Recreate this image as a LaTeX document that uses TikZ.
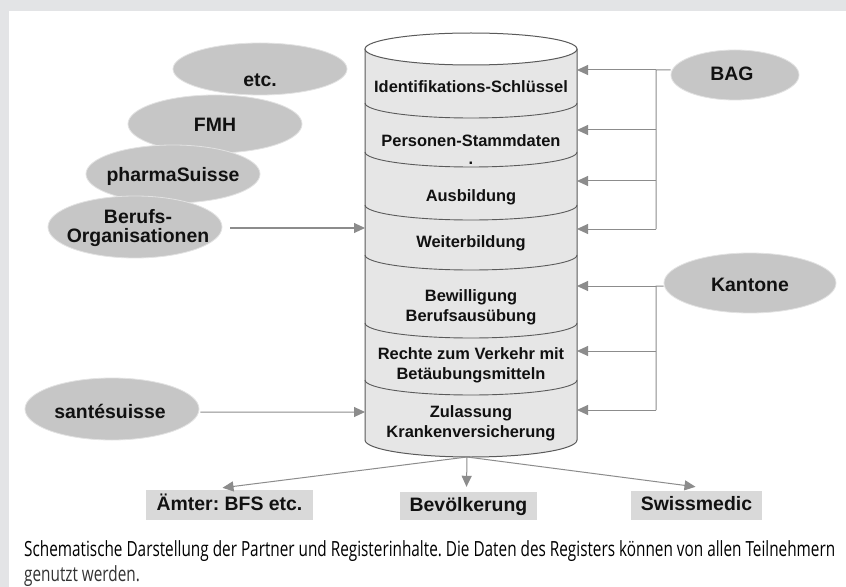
\documentclass[tikz,border=0pt]{standalone}
\usepackage{fontspec}
\setmainfont{Liberation Sans}
\newfontfamily\capfont{Open Sans}
\usetikzlibrary{shapes.geometric,arrows.meta}
\definecolor{bggray}{HTML}{E3E4E6}
\definecolor{ellfill}{HTML}{C6C6C6}
\definecolor{ellborder}{HTML}{E2E2E2}
\definecolor{cylfill}{HTML}{E6E6E6}
\definecolor{cylline}{HTML}{5A5A5A}
\definecolor{arrowgray}{HTML}{8C8C8C}
\definecolor{boxfill}{HTML}{D9D9D9}
\definecolor{txt}{HTML}{111111}
\definecolor{captxt}{HTML}{333333}
\newcommand\sagarc[2]{(365,#1) .. controls (365,#1+#2*0.5523) and (412.5,#1+#2) .. (471,#1+#2) .. controls (529.5,#1+#2) and (577,#1+#2*0.5523) .. (577,#1)}
\newsavebox\capboxA
\frenchspacing
\begin{document}
\sbox\capboxA{\capfont\fontsize{21}{24}\selectfont Schematische Darstellung der Partner und Registerinhalte. Die Daten des Registers können von allen Teilnehmern}%
\pgfmathsetmacro\capsx{814.04/\the\wd\capboxA}%
\begin{tikzpicture}[x=1bp,y=-1bp,
  ell/.style={ellipse, fill=ellfill, draw=ellborder, line width=0.8bp, inner sep=0pt},
  lab/.style={font=\fontsize{19.5}{19.5}\selectfont\bfseries, text=txt, align=center, inner sep=0pt},
  cyllab/.style={font=\fontsize{16.5}{20}\selectfont\bfseries, text=txt, align=center, inner sep=0pt},
  conn/.style={draw=arrowgray, line width=1bp},
  arr/.style={conn, -{Triangle[length=11bp,width=10bp]}},
  boxnode/.style={fill=boxfill, inner sep=0pt, text height=14bp, text depth=4bp, font=\fontsize{19.5}{20}\selectfont\bfseries, text=txt},
  caption/.style={anchor=base west, inner sep=0pt, text=captxt}
]
\useasboundingbox (0,0) rectangle (846,587);
\fill[bggray] (0,0) rectangle (846,587);
\fill[white] (9,11) rectangle (846,587);

% left ellipses (back to front)
\node[ell, minimum width=174bp, minimum height=52bp] (etc) at (260,69) {};
\node[lab] (etct) at (260,80) {etc.};
\node[ell, minimum width=174bp, minimum height=58bp] (fmh) at (215,124) {};
\node[lab] (fmht) at (215,125) {FMH};
\node[ell, minimum width=174bp, minimum height=58bp] (pharma) at (173,174) {};
\node[lab] (pharmat) at (173,176) {pharmaSuisse};
\node[ell, minimum width=174bp, minimum height=62bp] (berufs) at (135,227) {};
\node[lab] (berufst) at (138,228) {Berufs-\\Organisationen};
\node[ell, minimum width=174bp, minimum height=62bp] (sante) at (112,409) {};
\node[lab] (santet) at (110,411) {santésuisse};

% right ellipses
\node[ell, minimum width=128bp, minimum height=50bp] (bag) at (735,75) {};
\node[lab] (bagt) at (732,74) {BAG};
\node[ell, minimum width=172bp, minimum height=60bp] (kant) at (750,283) {};
\node[lab] (kantt) at (750,285) {Kantone};

% cylinder
\fill[cylfill] (365,49) -- (365,440) .. controls (365,449.4) and (412.5,457) .. (471,457) .. controls (529.5,457) and (577,449.4) .. (577,440) -- (577,49) -- cycle;
\draw[cylline, line width=1bp] (365,49) -- (365,440) .. controls (365,449.4) and (412.5,457) .. (471,457) .. controls (529.5,457) and (577,449.4) .. (577,440) -- (577,49);
\foreach \yy in {103,152,205,255,323,380}{
  \draw[cylline, line width=0.9bp] \sagarc{\yy}{15};
}
\draw[cylline, line width=1bp, fill=white] (471,49) ellipse [x radius=106, y radius=16];

\node[cyllab] (c1) at (471,87) {Identifikations-Schlüssel};
\node[cyllab] (c2) at (471,141) {Personen-Stammdaten};
\node[cyllab] (c2b) at (471,163) {.};
\node[cyllab] (c3) at (471,197) {Ausbildung};
\node[cyllab] (c4) at (471,243) {Weiterbildung};
\node[cyllab] (c5) at (471,307) {Bewilligung\\Berufsausübung};
\node[cyllab] (c6) at (471,365) {Rechte zum Verkehr mit\\Betäubungsmitteln};
\node[cyllab] (c7) at (471,423) {Zulassung\\Krankenversicherung};

% arrow targets on cylinder
\coordinate (cB1) at (577,70);
\coordinate (cB2) at (577,130);
\coordinate (cB3) at (577,181);
\coordinate (cB4) at (577,229);
\coordinate (cK1) at (577,286);
\coordinate (cK2) at (577,351);
\coordinate (cK3) at (577,410);
\coordinate (cL1) at (365,228);
\coordinate (cL2) at (365,412);
\coordinate (jB1) at (656,70);
\coordinate (jB2) at (656,130);
\coordinate (jB3) at (656,181);
\coordinate (jB4) at (656,229);
\coordinate (jK1) at (656,286);
\coordinate (jK2) at (656,351);
\coordinate (jK3) at (656,410);
\coordinate (cylbot) at (467,457);

% BAG connections
\draw[conn] ([yshift=5bp]bag.west) -- (jB1) -- (jB4);
\draw[arr] (jB1) -- (cB1);
\draw[arr] (jB2) -- (cB2);
\draw[arr] (jB3) -- (cB3);
\draw[arr] (jB4) -- (cB4);

% Kantone connections
\draw[conn] ([yshift=-3bp]kant.west) -- (jK1) -- (jK3);
\draw[arr] (jK1) -- (cK1);
\draw[arr] (jK2) -- (cK2);
\draw[arr] (jK3) -- (cK3);

% left connections
\draw[arr] ([xshift=8bp,yshift=-1bp]berufs.east) -- (cL1);
\draw[arr] ([xshift=1bp,yshift=-3bp]sante.east) -- (cL2);

% bottom boxes
\node[boxnode, minimum width=167bp, minimum height=30bp] (aemter) at (229.5,505) {Ämter: BFS etc.};
\node[boxnode, minimum width=137bp, minimum height=28bp] (bev) at (468.5,506) {Bevölkerung};
\node[boxnode, minimum width=131bp, minimum height=29bp] (swiss) at (696.5,505.5) {Swissmedic};

\draw[arr] (cylbot) -- ([xshift=-7bp,yshift=2bp]aemter.north);
\draw[arr] (cylbot) -- ([xshift=-2bp,yshift=5bp]bev.north);
\draw[arr] (cylbot) -- ([xshift=-1bp,yshift=4bp]swiss.north);

% caption
\node[caption] (cap1) at (24,556) {\scalebox{\capsx}[1]{\usebox\capboxA}};
\node[caption] (cap2) at (24,581) {\scalebox{\capsx}[1]{\capfont\fontsize{21}{24}\selectfont genutzt werden.}};
\end{tikzpicture}
\end{document}
